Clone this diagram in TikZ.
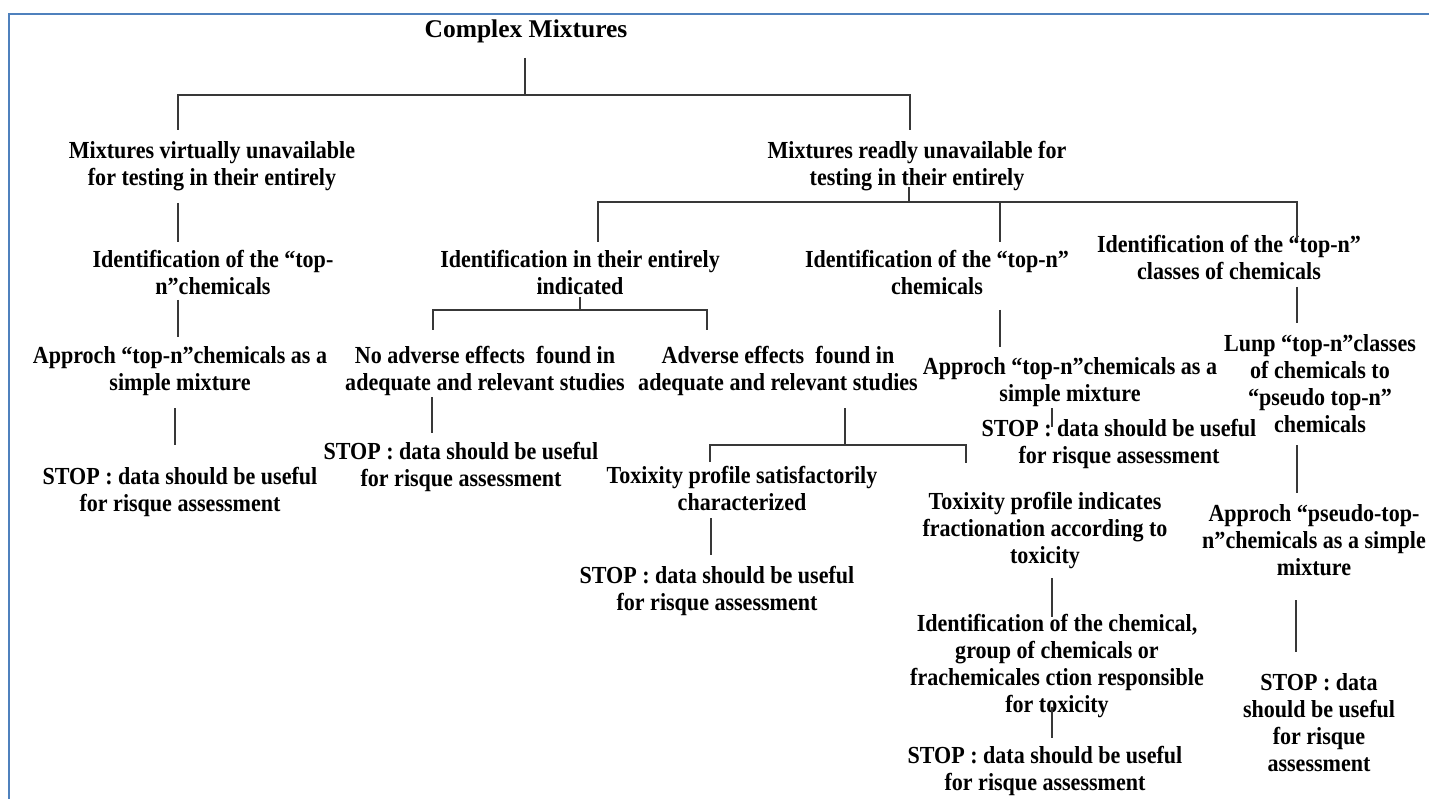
\documentclass[tikz,border=0pt]{standalone}
\usepackage{fontspec}
\setmainfont{Liberation Serif}[FakeStretch=0.9]
\newfontfamily\titlefont{Liberation Serif}
\begin{document}
\begin{tikzpicture}[x=1pt,y=-1pt,
  % base anchor sits on the last line of a multi-line node
  txt/.style={anchor=base,align=center,inner sep=0pt,
    font=\fontsize{24.5}{27}\selectfont\bfseries},
  titletxt/.style={anchor=base,inner sep=0pt,
    font=\titlefont\fontsize{25.5}{30}\selectfont\bfseries},
  link/.style={draw=black!78,line width=1.3pt},
  frameline/.style={draw={rgb,255:red,79;green,129;blue,189},line width=2.2pt}]
\useasboundingbox (0,0) rectangle (1429,799);
\fill[white] (0,0) rectangle (1429,799);
% page frame (top and left edges)
\coordinate (fA) at (9.3,799);
\coordinate (fB) at (9.3,13.7);
\coordinate (fC) at (1429,13.7);
\draw[frameline] (fA) -- (fB) -- (fC);

% ---------- texts ----------
\node[titletxt] (title) at (526,38) {Complex Mixtures};

\node[txt] (virt) at (212,186) {Mixtures virtually unavailable\\for testing in their entirely};
\node[txt] (ready) at (917,186) {Mixtures readly unavailable for\\testing in their entirely};

\node[txt] (idL) at (213,295) {Identification of the “top-\\n”chemicals};
\node[txt] (apL) at (180,390) {Approch “top-n”chemicals as a\\simple mixture};
\node[txt] (stopL) at (180,511) {STOP : data should be useful\\for risque assessment};

\node[txt] (idE) at (580,295) {Identification in their entirely\\indicated};
\node[txt] (noadv) at (485,390) {No adverse effects\ \ found in\\adequate and relevant studies};
\node[txt] (adv) at (778,390) {Adverse effects\ \ found in\\adequate and relevant studies};
\node[txt] (stopN) at (461,486) {STOP : data should be useful\\for risque assessment};
\node[txt] (toxS) at (742,510) {Toxixity profile satisfactorily\\characterized};
\node[txt] (stopS) at (717,610) {STOP : data should be useful\\for risque assessment};
\node[txt] (toxF) at (1045,563) {Toxixity profile indicates\\fractionation according to\\toxicity};
\node[txt] (idC) at (1057,712) {Identification of the chemical,\\group of chemicals or\\frachemicales ction responsible\\for toxicity};
\node[txt] (stopF) at (1045,790) {STOP : data should be useful\\for risque assessment};

\node[txt] (idT) at (937,295) {Identification of the “top-n”\\chemicals};
\node[txt] (apT) at (1070,401) {Approch “top-n”chemicals as a\\simple mixture};
\node[txt] (stopT) at (1119,463) {STOP : data should be useful\\for risque assessment};

\node[txt] (idK) at (1229,280) {Identification of the “top-n”\\classes of chemicals};
\node[txt] (lunp) at (1320,432) {Lunp “top-n”classes\\of chemicals to\\“pseudo top-n”\\chemicals};
\node[txt] (apP) at (1314,575) {Approch “pseudo-top-\\n”chemicals as a simple\\mixture};
\node[txt] (stopP) at (1319,771) {STOP : data\\should be useful\\for risque\\assessment};

% ---------- connector end points ----------
\coordinate (t0) at (525,58);
\coordinate (t1) at (525,95);
\coordinate (t1L) at (178,95);
\coordinate (t1R) at (910,95);
\coordinate (virtTop) at (178,130);
\coordinate (readyTop) at (910,130);

\coordinate (v1) at (178,203);
\coordinate (v2) at (178,242);
\coordinate (v3) at (178,300);
\coordinate (v4) at (178,337);
\coordinate (v5) at (175,408);
\coordinate (v6) at (175,445);

\coordinate (r0) at (909,187);
\coordinate (r1) at (909,202);
\coordinate (rL) at (598,202);
\coordinate (rM) at (1000,202);
\coordinate (rR) at (1297,202);
\coordinate (rLb) at (598,242);
\coordinate (rMb) at (1000,242);
\coordinate (rRb) at (1297,240);

\coordinate (e0) at (580,297);
\coordinate (e1) at (580,310);
\coordinate (eL) at (433,310);
\coordinate (eR) at (707,310);
\coordinate (eLb) at (433,330);
\coordinate (eRb) at (707,330);
\coordinate (n0) at (432,397);
\coordinate (n1) at (432,433);

\coordinate (a0) at (845,408);
\coordinate (a1) at (845,445);
\coordinate (aL) at (710,445);
\coordinate (aR) at (966,445);
\coordinate (aLb) at (710,462);
\coordinate (aRb) at (966,463);
\coordinate (s0) at (711,518);
\coordinate (s1) at (711,555);
\coordinate (f0) at (1052,578);
\coordinate (f1) at (1052,617);
\coordinate (f2) at (1052,707);
\coordinate (f3) at (1052,738);

\coordinate (m0) at (1000,310);
\coordinate (m1) at (1000,347);
\coordinate (m2) at (1052,408);
\coordinate (m3) at (1052,427);

\coordinate (k0) at (1297,287);
\coordinate (k1) at (1297,323);
\coordinate (k2) at (1297,445);
\coordinate (k3) at (1297,493);
\coordinate (k4) at (1296,600);
\coordinate (k5) at (1296,652);

% ---------- connectors ----------
\draw[link] (t0) -- (t1);
\draw[link] (virtTop) -- (t1L) -- (t1R) -- (readyTop);
\draw[link] (v1) -- (v2);
\draw[link] (v3) -- (v4);
\draw[link] (v5) -- (v6);
\draw[link] (r0) -- (r1);
\draw[link] (rLb) -- (rL) -- (rR) -- (rRb);
\draw[link] (rM) -- (rMb);
\draw[link] (e0) -- (e1);
\draw[link] (eLb) -- (eL) -- (eR) -- (eRb);
\draw[link] (n0) -- (n1);
\draw[link] (a0) -- (a1);
\draw[link] (aLb) -- (aL) -- (aR) -- (aRb);
\draw[link] (s0) -- (s1);
\draw[link] (f0) -- (f1);
\draw[link] (f2) -- (f3);
\draw[link] (m0) -- (m1);
\draw[link] (m2) -- (m3);
\draw[link] (k0) -- (k1);
\draw[link] (k2) -- (k3);
\draw[link] (k4) -- (k5);
\end{tikzpicture}
\end{document}
